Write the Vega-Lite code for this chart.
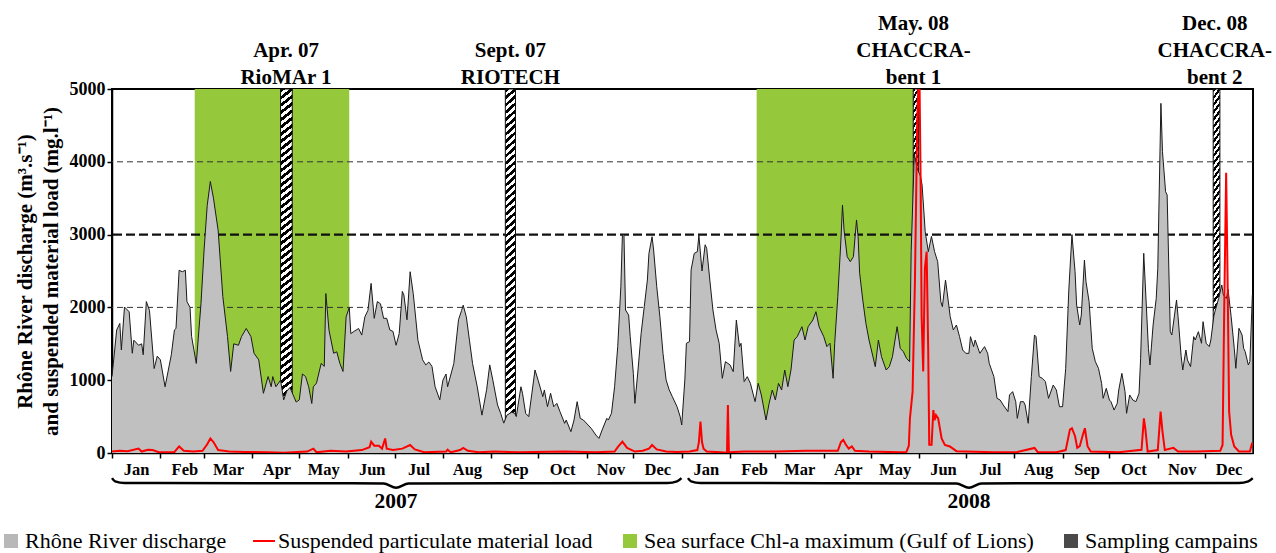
{
  "$schema": "https://vega.github.io/schema/vega-lite/v6.json",
  "width": 1141,
  "height": 364,
  "autosize": {"type": "none"},
  "padding": {"left": 112, "top": 89, "right": 23, "bottom": 100},
  "background": "white",
  "config": {
    "font": "Liberation Serif",
    "view": {"stroke": "black", "strokeWidth": 2}
  },
  "datasets": {
    "q": [
      {"d":"2007-01-01","q":1050},{"d":"2007-01-04","q":1690},{"d":"2007-01-06","q":1780},{"d":"2007-01-07","q":1415},{"d":"2007-01-09","q":2005},{"d":"2007-01-12","q":1940},{"d":"2007-01-14","q":1370},{"d":"2007-01-15","q":1550},{"d":"2007-01-18","q":1480},{"d":"2007-01-20","q":1500},{"d":"2007-01-21","q":1350},{"d":"2007-01-23","q":2080},{"d":"2007-01-25","q":1960},{"d":"2007-01-28","q":1160},{"d":"2007-01-30","q":1330},
      {"d":"2007-02-01","q":1280},{"d":"2007-02-04","q":910},{"d":"2007-02-08","q":1350},{"d":"2007-02-10","q":1690},{"d":"2007-02-11","q":1710},{"d":"2007-02-13","q":2510},{"d":"2007-02-15","q":2490},{"d":"2007-02-17","q":2510},{"d":"2007-02-18","q":2080},{"d":"2007-02-20","q":2000},{"d":"2007-02-21","q":1600},{"d":"2007-02-24","q":1230},{"d":"2007-02-27","q":2050},
      {"d":"2007-03-01","q":2790},{"d":"2007-03-03","q":3400},{"d":"2007-03-05","q":3730},{"d":"2007-03-07","q":3500},{"d":"2007-03-10","q":3060},{"d":"2007-03-13","q":2150},{"d":"2007-03-16","q":1600},{"d":"2007-03-18","q":1120},{"d":"2007-03-20","q":1500},{"d":"2007-03-23","q":1480},{"d":"2007-03-25","q":1600},{"d":"2007-03-28","q":1710},{"d":"2007-03-31","q":1600},
      {"d":"2007-04-02","q":1370},{"d":"2007-04-05","q":1280},{"d":"2007-04-08","q":820},{"d":"2007-04-11","q":1050},{"d":"2007-04-13","q":910},{"d":"2007-04-14","q":1050},{"d":"2007-04-16","q":910},{"d":"2007-04-19","q":1000},{"d":"2007-04-21","q":730},{"d":"2007-04-23","q":850},{"d":"2007-04-25","q":900},{"d":"2007-04-27","q":800},{"d":"2007-04-29","q":700},
      {"d":"2007-05-01","q":730},{"d":"2007-05-03","q":1085},{"d":"2007-05-05","q":1050},{"d":"2007-05-07","q":910},{"d":"2007-05-09","q":680},{"d":"2007-05-10","q":910},{"d":"2007-05-12","q":960},{"d":"2007-05-15","q":1230},{"d":"2007-05-17","q":1190},{"d":"2007-05-18","q":2190},{"d":"2007-05-20","q":1690},{"d":"2007-05-23","q":1370},{"d":"2007-05-25","q":1390},{"d":"2007-05-27","q":1230},{"d":"2007-05-29","q":1120},{"d":"2007-05-31","q":1870},
      {"d":"2007-06-02","q":2000},{"d":"2007-06-03","q":1640},{"d":"2007-06-05","q":1670},{"d":"2007-06-08","q":1710},{"d":"2007-06-10","q":1620},{"d":"2007-06-12","q":1870},{"d":"2007-06-14","q":1960},{"d":"2007-06-16","q":2330},{"d":"2007-06-18","q":1850},{"d":"2007-06-20","q":2080},{"d":"2007-06-22","q":2050},{"d":"2007-06-24","q":1850},{"d":"2007-06-26","q":1850},{"d":"2007-06-28","q":1690},{"d":"2007-06-30","q":1670},
      {"d":"2007-07-02","q":1480},{"d":"2007-07-04","q":1640},{"d":"2007-07-06","q":2220},{"d":"2007-07-07","q":2170},{"d":"2007-07-09","q":1830},{"d":"2007-07-11","q":2490},{"d":"2007-07-13","q":2190},{"d":"2007-07-16","q":1550},{"d":"2007-07-18","q":1370},{"d":"2007-07-19","q":1280},{"d":"2007-07-21","q":1210},{"d":"2007-07-23","q":1250},{"d":"2007-07-25","q":1190},{"d":"2007-07-27","q":910},{"d":"2007-07-30","q":730},
      {"d":"2007-08-01","q":1000},{"d":"2007-08-03","q":1085},{"d":"2007-08-04","q":910},{"d":"2007-08-08","q":1230},{"d":"2007-08-11","q":1830},{"d":"2007-08-13","q":1960},{"d":"2007-08-14","q":2030},{"d":"2007-08-16","q":1870},{"d":"2007-08-18","q":1550},{"d":"2007-08-20","q":1230},{"d":"2007-08-23","q":910},{"d":"2007-08-26","q":520},{"d":"2007-08-29","q":870},{"d":"2007-08-31","q":1210},
      {"d":"2007-09-02","q":1000},{"d":"2007-09-05","q":660},{"d":"2007-09-07","q":545},{"d":"2007-09-09","q":410},{"d":"2007-09-11","q":520},{"d":"2007-09-14","q":560},{"d":"2007-09-16","q":545},{"d":"2007-09-17","q":500},{"d":"2007-09-20","q":910},{"d":"2007-09-21","q":820},{"d":"2007-09-23","q":545},{"d":"2007-09-25","q":500},{"d":"2007-09-27","q":820},{"d":"2007-09-29","q":1140},
      {"d":"2007-10-01","q":1000},{"d":"2007-10-04","q":774},{"d":"2007-10-05","q":866},{"d":"2007-10-07","q":636},{"d":"2007-10-09","q":820},{"d":"2007-10-11","q":636},{"d":"2007-10-13","q":682},{"d":"2007-10-15","q":568},{"d":"2007-10-18","q":407},{"d":"2007-10-19","q":453},{"d":"2007-10-22","q":293},{"d":"2007-10-24","q":453},{"d":"2007-10-26","q":705},{"d":"2007-10-28","q":476},{"d":"2007-10-30","q":453},
      {"d":"2007-11-02","q":385},{"d":"2007-11-04","q":339},{"d":"2007-11-07","q":247},{"d":"2007-11-09","q":201},{"d":"2007-11-11","q":316},{"d":"2007-11-14","q":476},{"d":"2007-11-15","q":453},{"d":"2007-11-17","q":545},{"d":"2007-11-19","q":911},{"d":"2007-11-21","q":1460},{"d":"2007-11-23","q":2285},{"d":"2007-11-24","q":2994},{"d":"2007-11-25","q":3000},{"d":"2007-11-26","q":1964},{"d":"2007-11-28","q":1895},{"d":"2007-11-29","q":1598},
      {"d":"2007-12-01","q":1094},{"d":"2007-12-02","q":682},{"d":"2007-12-04","q":1140},{"d":"2007-12-06","q":1644},{"d":"2007-12-08","q":2010},{"d":"2007-12-10","q":2376},{"d":"2007-12-11","q":2742},{"d":"2007-12-13","q":2971},{"d":"2007-12-14","q":2788},{"d":"2007-12-16","q":2285},{"d":"2007-12-18","q":1873},{"d":"2007-12-20","q":1369},{"d":"2007-12-22","q":1003},{"d":"2007-12-24","q":866},{"d":"2007-12-26","q":774},{"d":"2007-12-29","q":636},{"d":"2007-12-31","q":500},
      {"d":"2008-01-01","q":385},{"d":"2008-01-03","q":1003},{"d":"2008-01-04","q":1507},{"d":"2008-01-06","q":1530},{"d":"2008-01-07","q":2514},{"d":"2008-01-09","q":2742},{"d":"2008-01-11","q":2765},{"d":"2008-01-12","q":2990},{"d":"2008-01-14","q":2500},{"d":"2008-01-16","q":2860},{"d":"2008-01-17","q":2810},{"d":"2008-01-19","q":2376},{"d":"2008-01-21","q":1964},{"d":"2008-01-23","q":1690},{"d":"2008-01-25","q":1507},{"d":"2008-01-27","q":1026},{"d":"2008-01-29","q":1255},
      {"d":"2008-02-01","q":1209},{"d":"2008-02-03","q":1117},{"d":"2008-02-05","q":1827},{"d":"2008-02-07","q":1461},{"d":"2008-02-08","q":1507},{"d":"2008-02-10","q":980},{"d":"2008-02-12","q":1049},{"d":"2008-02-14","q":957},{"d":"2008-02-17","q":705},{"d":"2008-02-19","q":957},{"d":"2008-02-21","q":797},{"d":"2008-02-24","q":453},{"d":"2008-02-26","q":682},{"d":"2008-02-28","q":865},
      {"d":"2008-03-01","q":728},{"d":"2008-03-03","q":957},{"d":"2008-03-05","q":865},{"d":"2008-03-07","q":1140},{"d":"2008-03-09","q":911},{"d":"2008-03-11","q":1140},{"d":"2008-03-13","q":1552},{"d":"2008-03-15","q":1598},{"d":"2008-03-18","q":1735},{"d":"2008-03-20","q":1552},{"d":"2008-03-22","q":1735},{"d":"2008-03-25","q":1827},{"d":"2008-03-27","q":1941},{"d":"2008-03-29","q":1735},
      {"d":"2008-04-01","q":1598},{"d":"2008-04-03","q":1461},{"d":"2008-04-05","q":1507},{"d":"2008-04-07","q":1026},{"d":"2008-04-08","q":1507},{"d":"2008-04-10","q":2147},{"d":"2008-04-12","q":2926},{"d":"2008-04-13","q":3407},{"d":"2008-04-14","q":3064},{"d":"2008-04-16","q":2697},{"d":"2008-04-18","q":2628},{"d":"2008-04-20","q":2697},{"d":"2008-04-22","q":3201},{"d":"2008-04-23","q":2972},{"d":"2008-04-24","q":2468},{"d":"2008-04-26","q":2102},{"d":"2008-04-28","q":1781},{"d":"2008-04-30","q":1552},
      {"d":"2008-05-03","q":1278},{"d":"2008-05-04","q":1186},{"d":"2008-05-06","q":1552},{"d":"2008-05-08","q":1323},{"d":"2008-05-11","q":1140},{"d":"2008-05-13","q":1186},{"d":"2008-05-15","q":1323},{"d":"2008-05-18","q":1735},{"d":"2008-05-20","q":1438},{"d":"2008-05-22","q":1392},{"d":"2008-05-24","q":1300},{"d":"2008-05-26","q":1255},{"d":"2008-05-27","q":2765},{"d":"2008-05-29","q":4100},{"d":"2008-05-31","q":3900},
      {"d":"2008-06-02","q":3800},{"d":"2008-06-03","q":3681},{"d":"2008-06-05","q":3040},{"d":"2008-06-07","q":2765},{"d":"2008-06-09","q":2976},{"d":"2008-06-11","q":2765},{"d":"2008-06-13","q":2628},{"d":"2008-06-15","q":2079},{"d":"2008-06-16","q":2010},{"d":"2008-06-18","q":2376},{"d":"2008-06-19","q":2216},{"d":"2008-06-21","q":1873},{"d":"2008-06-23","q":1690},{"d":"2008-06-25","q":1758},{"d":"2008-06-27","q":1598},{"d":"2008-06-29","q":1415},
      {"d":"2008-07-01","q":1369},{"d":"2008-07-03","q":1369},{"d":"2008-07-04","q":1598},{"d":"2008-07-06","q":1461},{"d":"2008-07-07","q":1552},{"d":"2008-07-10","q":1369},{"d":"2008-07-13","q":1461},{"d":"2008-07-15","q":1369},{"d":"2008-07-16","q":1232},{"d":"2008-07-19","q":1049},{"d":"2008-07-21","q":751},{"d":"2008-07-23","q":728},{"d":"2008-07-25","q":659},{"d":"2008-07-28","q":568},{"d":"2008-07-29","q":797},{"d":"2008-07-31","q":843},
      {"d":"2008-08-02","q":705},{"d":"2008-08-03","q":476},{"d":"2008-08-05","q":705},{"d":"2008-08-07","q":705},{"d":"2008-08-08","q":659},{"d":"2008-08-10","q":408},{"d":"2008-08-12","q":1049},{"d":"2008-08-14","q":1621},{"d":"2008-08-15","q":1598},{"d":"2008-08-17","q":1049},{"d":"2008-08-19","q":1026},{"d":"2008-08-21","q":980},{"d":"2008-08-23","q":751},{"d":"2008-08-26","q":934},{"d":"2008-08-28","q":866},{"d":"2008-08-30","q":636},
      {"d":"2008-09-01","q":636},{"d":"2008-09-03","q":1163},{"d":"2008-09-05","q":2240},{"d":"2008-09-07","q":3000},{"d":"2008-09-09","q":2491},{"d":"2008-09-10","q":2033},{"d":"2008-09-12","q":1758},{"d":"2008-09-13","q":1895},{"d":"2008-09-15","q":2651},{"d":"2008-09-16","q":2353},{"d":"2008-09-18","q":2079},{"d":"2008-09-20","q":1438},{"d":"2008-09-22","q":1255},{"d":"2008-09-24","q":1163},{"d":"2008-09-26","q":957},{"d":"2008-09-27","q":751},{"d":"2008-09-29","q":888},
      {"d":"2008-10-01","q":728},{"d":"2008-10-02","q":705},{"d":"2008-10-04","q":590},{"d":"2008-10-06","q":682},{"d":"2008-10-07","q":865},{"d":"2008-10-09","q":1094},{"d":"2008-10-11","q":843},{"d":"2008-10-12","q":545},{"d":"2008-10-14","q":797},{"d":"2008-10-16","q":728},{"d":"2008-10-18","q":705},{"d":"2008-10-20","q":820},{"d":"2008-10-21","q":1300},{"d":"2008-10-23","q":2743},{"d":"2008-10-24","q":2308},{"d":"2008-10-26","q":1438},{"d":"2008-10-27","q":1209},{"d":"2008-10-29","q":1758},{"d":"2008-10-31","q":2124},
      {"d":"2008-11-01","q":2537},{"d":"2008-11-02","q":3681},{"d":"2008-11-03","q":4803},{"d":"2008-11-04","q":4140},{"d":"2008-11-06","q":3590},{"d":"2008-11-07","q":3544},{"d":"2008-11-09","q":1667},{"d":"2008-11-10","q":1621},{"d":"2008-11-13","q":2102},{"d":"2008-11-14","q":1873},{"d":"2008-11-16","q":1323},{"d":"2008-11-17","q":1140},{"d":"2008-11-19","q":1415},{"d":"2008-11-20","q":1278},{"d":"2008-11-22","q":1186},{"d":"2008-11-24","q":1598},{"d":"2008-11-25","q":1552},{"d":"2008-11-27","q":1667},{"d":"2008-11-29","q":1507},{"d":"2008-11-30","q":1804},
      {"d":"2008-12-02","q":1507},{"d":"2008-12-04","q":1461},{"d":"2008-12-05","q":1552},{"d":"2008-12-07","q":1895},{"d":"2008-12-10","q":2124},{"d":"2008-12-12","q":2308},{"d":"2008-12-13","q":2170},{"d":"2008-12-15","q":2124},{"d":"2008-12-16","q":2250},{"d":"2008-12-18","q":1873},{"d":"2008-12-20","q":1438},{"d":"2008-12-21","q":1163},{"d":"2008-12-23","q":1713},{"d":"2008-12-25","q":1621},{"d":"2008-12-26","q":1438},{"d":"2008-12-27","q":1392},{"d":"2008-12-29","q":1209},{"d":"2008-12-30","q":1255},{"d":"2008-12-31T14:00Z","q":2170}
    ],
    "s": [
      {"d":"2007-01-01","s":20},{"d":"2007-01-06","s":30},{"d":"2007-01-11","s":25},{"d":"2007-01-18","s":60},{"d":"2007-01-20","s":20},{"d":"2007-01-24","s":45},{"d":"2007-01-27","s":40},{"d":"2007-01-31","s":10},{"d":"2007-02-10","s":15},{"d":"2007-02-13","s":90},{"d":"2007-02-16","s":30},{"d":"2007-02-22","s":20},{"d":"2007-02-28","s":30},{"d":"2007-03-03","s":120},{"d":"2007-03-05","s":200},{"d":"2007-03-07","s":150},{"d":"2007-03-10","s":40},{"d":"2007-03-17","s":20},{"d":"2007-03-27","s":15},{"d":"2007-04-11","s":10},{"d":"2007-04-21","s":5},{"d":"2007-05-06","s":20},{"d":"2007-05-10","s":60},{"d":"2007-05-12","s":10},{"d":"2007-05-21","s":30},{"d":"2007-05-31","s":20},{"d":"2007-06-10","s":40},{"d":"2007-06-15","s":80},{"d":"2007-06-16","s":155},{"d":"2007-06-18","s":100},{"d":"2007-06-21","s":100},{"d":"2007-06-23","s":60},{"d":"2007-06-25","s":200},{"d":"2007-06-26","s":60},{"d":"2007-06-30","s":40},{"d":"2007-07-06","s":60},{"d":"2007-07-11","s":110},{"d":"2007-07-14","s":50},{"d":"2007-07-20","s":10},{"d":"2007-08-03","s":20},{"d":"2007-08-04","s":45},{"d":"2007-08-06","s":10},{"d":"2007-08-12","s":40},{"d":"2007-08-14","s":70},{"d":"2007-08-17","s":30},{"d":"2007-08-24","s":10},{"d":"2007-09-03","s":20},{"d":"2007-09-18","s":10},{"d":"2007-10-18","s":20},{"d":"2007-11-07","s":10},{"d":"2007-11-19","s":20},{"d":"2007-11-21","s":80},{"d":"2007-11-24","s":155},{"d":"2007-11-27","s":70},{"d":"2007-12-02","s":20},{"d":"2007-12-07","s":30},{"d":"2007-12-11","s":60},{"d":"2007-12-13","s":110},{"d":"2007-12-16","s":50},{"d":"2007-12-22","s":20},{"d":"2007-12-29","s":15},
      {"d":"2008-01-06","s":20},{"d":"2008-01-11","s":40},{"d":"2008-01-12","s":150},{"d":"2008-01-13","s":430},{"d":"2008-01-14","s":150},{"d":"2008-01-15","s":60},{"d":"2008-01-17","s":20},{"d":"2008-01-26","s":10},{"d":"2008-01-30","s":5},{"d":"2008-01-30T14:00Z","s":660},{"d":"2008-01-31T05:00Z","s":10},{"d":"2008-02-10","s":20},{"d":"2008-03-01","s":20},{"d":"2008-03-21","s":30},{"d":"2008-04-10","s":30},{"d":"2008-04-12","s":150},{"d":"2008-04-13T12:00Z","s":180},{"d":"2008-04-15","s":120},{"d":"2008-04-17","s":60},{"d":"2008-04-19","s":90},{"d":"2008-04-21","s":30},{"d":"2008-04-30","s":20},{"d":"2008-05-20","s":10},{"d":"2008-05-24","s":15},{"d":"2008-05-25T12:00Z","s":100},{"d":"2008-05-26T05:00Z","s":476},{"d":"2008-05-27T22:00Z","s":843},{"d":"2008-05-29T10:00Z","s":2376},{"d":"2008-05-30T22:00Z","s":4600},{"d":"2008-06-01T05:00Z","s":5400},{"d":"2008-06-02T02:00Z","s":3681},{"d":"2008-06-02T17:00Z","s":1873},{"d":"2008-06-03T17:00Z","s":1121},{"d":"2008-06-04T19:00Z","s":2537},{"d":"2008-06-05T22:00Z","s":2765},{"d":"2008-06-06T22:00Z","s":1415},{"d":"2008-06-07T14:00Z","s":114},{"d":"2008-06-09T02:00Z","s":114},{"d":"2008-06-10T05:00Z","s":590},{"d":"2008-06-11","s":450},{"d":"2008-06-11T22:00Z","s":520},{"d":"2008-06-13T07:00Z","s":476},{"d":"2008-06-15T12:00Z","s":200},{"d":"2008-06-17T14:00Z","s":110},{"d":"2008-06-20T19:00Z","s":90},{"d":"2008-06-25","s":25},{"d":"2008-07-19","s":10},{"d":"2008-08-03","s":15},{"d":"2008-08-14","s":70},{"d":"2008-08-16","s":15},{"d":"2008-08-28","s":10},{"d":"2008-09-03","s":40},{"d":"2008-09-05T17:00Z","s":321},{"d":"2008-09-07","s":340},{"d":"2008-09-09","s":230},{"d":"2008-09-10T10:00Z","s":70},{"d":"2008-09-12","s":93},{"d":"2008-09-14","s":250},{"d":"2008-09-15T07:00Z","s":340},{"d":"2008-09-17","s":93},{"d":"2008-09-19","s":20},{"d":"2008-10-07","s":10},{"d":"2008-10-21T14:00Z","s":45},{"d":"2008-10-23T02:00Z","s":476},{"d":"2008-10-24","s":340},{"d":"2008-10-25T12:00Z","s":20},{"d":"2008-11-01","s":40},{"d":"2008-11-02T19:00Z","s":568},{"d":"2008-11-04","s":293},{"d":"2008-11-05T12:00Z","s":40},{"d":"2008-11-11","s":70},{"d":"2008-11-14","s":20},{"d":"2008-11-26","s":20},{"d":"2008-12-11","s":30},{"d":"2008-12-12T12:00Z","s":110},{"d":"2008-12-13T12:00Z","s":1873},{"d":"2008-12-14T19:00Z","s":3850},{"d":"2008-12-15T12:00Z","s":2765},{"d":"2008-12-16T17:00Z","s":568},{"d":"2008-12-18","s":250},{"d":"2008-12-20","s":90},{"d":"2008-12-23","s":20},{"d":"2008-12-30","s":20},{"d":"2008-12-31T12:00Z","s":140}
    ],
    "chl": [
      {"start":"2007-02-23","end":"2007-06-02"},
      {"start":"2008-02-18","end":"2008-05-28T08:00Z"}
    ],
    "camp": [
      {"start":"2007-04-19","end":"2007-04-26T12:00Z","mid":"2007-04-22T12:00Z","label":"Apr. 07\nRioMAr 1"},
      {"start":"2007-09-10","end":"2007-09-16T12:00Z","mid":"2007-09-13T06:00Z","label":"Sept. 07\nRIOTECH"},
      {"start":"2008-05-28T08:00Z","end":"2008-05-31T19:00Z","mid":"2008-05-28T12:00Z","label":"May. 08\nCHACCRA-\nbent 1"},
      {"start":"2008-12-06T12:00Z","end":"2008-12-10T19:00Z","mid":"2008-12-07T12:00Z","label":"Dec. 08\nCHACCRA-\nbent 2"}
    ],
    "brace": [
      {"d":"2007-01-01","v":-345,"g":"2007"},{"d":"2007-01-03","v":-390,"g":"2007"},{"d":"2007-01-09","v":-412,"g":"2007"},{"d":"2007-06-24","v":-418,"g":"2007"},{"d":"2007-07-02","v":-478,"g":"2007","lab":"2007"},{"d":"2007-07-10","v":-418,"g":"2007"},{"d":"2007-12-23","v":-412,"g":"2007"},{"d":"2007-12-29","v":-390,"g":"2007"},{"d":"2007-12-31T20:00Z","v":-345,"g":"2007"},
      {"d":"2008-01-05","v":-345,"g":"2008"},{"d":"2008-01-07","v":-390,"g":"2008"},{"d":"2008-01-13","v":-412,"g":"2008"},{"d":"2008-06-25","v":-418,"g":"2008"},{"d":"2008-07-03","v":-478,"g":"2008","lab":"2008"},{"d":"2008-07-11","v":-418,"g":"2008"},{"d":"2008-12-23","v":-412,"g":"2008"},{"d":"2008-12-29","v":-390,"g":"2008"},{"d":"2008-12-31T20:00Z","v":-345,"g":"2008"}
    ],
    "leg": [
      {"item": "Rhône River discharge"},
      {"item": "Suspended particulate material load"},
      {"item": "Sea surface Chl-a maximum (Gulf of Lions)"},
      {"item": "Sampling campains"}
    ]
  },
  "layer": [
    {
      "data": {"name": "chl"},
      "mark": {"type": "rect", "color": "#95c83a"},
      "encoding": {
        "x": {
          "field": "start", "type": "temporal",
          "scale": {"type": "utc", "domain": [{"year": 2007, "month": 1, "date": 1, "utc": true}, {"year": 2009, "month": 1, "date": 1, "utc": true}]},
          "axis": {
            "title": null,
            "values": [
              {"year":2007,"month":1,"date":1,"utc":true},{"year":2007,"month":2,"date":1,"utc":true},{"year":2007,"month":3,"date":1,"utc":true},{"year":2007,"month":4,"date":1,"utc":true},{"year":2007,"month":5,"date":1,"utc":true},{"year":2007,"month":6,"date":1,"utc":true},{"year":2007,"month":7,"date":1,"utc":true},{"year":2007,"month":8,"date":1,"utc":true},{"year":2007,"month":9,"date":1,"utc":true},{"year":2007,"month":10,"date":1,"utc":true},{"year":2007,"month":11,"date":1,"utc":true},{"year":2007,"month":12,"date":1,"utc":true},
              {"year":2008,"month":1,"date":1,"utc":true},{"year":2008,"month":2,"date":1,"utc":true},{"year":2008,"month":3,"date":1,"utc":true},{"year":2008,"month":4,"date":1,"utc":true},{"year":2008,"month":5,"date":1,"utc":true},{"year":2008,"month":6,"date":1,"utc":true},{"year":2008,"month":7,"date":1,"utc":true},{"year":2008,"month":8,"date":1,"utc":true},{"year":2008,"month":9,"date":1,"utc":true},{"year":2008,"month":10,"date":1,"utc":true},{"year":2008,"month":11,"date":1,"utc":true},{"year":2008,"month":12,"date":1,"utc":true}
            ],
            "format": "%b",
            "labelOffset": 24,
            "labelFlush": false,
            "labelOverlap": false,
            "labelFont": "Liberation Serif",
            "labelFontSize": 16.5,
            "labelFontWeight": "bold",
            "labelColor": "black",
            "labelPadding": 3,
            "tickSize": 5,
            "tickColor": "black",
            "tickWidth": 1.5,
            "domainColor": "black",
            "domainWidth": 1.5,
            "grid": false
          }
        },
        "x2": {"field": "end"},
        "y": {
          "datum": 5000, "type": "quantitative",
          "scale": {"domain": [0, 5000], "nice": false, "zero": false},
          "axis": {
            "title": ["Rhône River discharge (m³.s⁻¹)", "and suspended material load (mg.l⁻¹)"],
            "values": [0, 500, 1000, 1500, 2000, 2500, 3000, 3500, 4000, 4500, 5000],
            "format": "d",
            "grid": false,
            "labelOverlap": false,
            "labelFont": "Liberation Serif",
            "labelFontSize": 18,
            "labelFontWeight": "bold",
            "labelColor": "black",
            "labelPadding": 2,
            "tickSize": 5,
            "tickColor": "black",
            "tickWidth": 1.5,
            "domainColor": "black",
            "domainWidth": 1.5,
            "titleFont": "Liberation Serif",
            "titleFontSize": 21,
            "titleFontWeight": "bold",
            "titleColor": "black",
            "titlePadding": 8,
            "titleLineHeight": 26
          }
        },
        "y2": {"datum": 0}
      }
    },
    {
      "data": {"values": [{"v": 2000}, {"v": 4000}]},
      "mark": {"type": "rule", "color": "#333333", "strokeWidth": 1, "strokeDash": [6, 4]},
      "encoding": {
        "y": {"field": "v", "type": "quantitative", "scale": {"domain": [0, 5000], "nice": false, "zero": false}}
      }
    },
    {
      "data": {"values": [{"v": 3000}]},
      "mark": {"type": "rule", "color": "#111111", "strokeWidth": 2.2, "strokeDash": [9, 4]},
      "encoding": {
        "y": {"field": "v", "type": "quantitative", "scale": {"domain": [0, 5000], "nice": false, "zero": false}}
      }
    },
    {
      "data": {"name": "camp"},
      "mark": {
        "type": "rect",
        "stroke": "#111111",
        "strokeWidth": 1,
        "fill": {
          "gradient": "linear", "x1": 0, "y1": 0, "x2": 0.025, "y2": 1,
          "stops": [
            {"offset":0,"color":"#000"},{"offset":0.01,"color":"#000"},{"offset":0.01,"color":"#fff"},{"offset":0.02,"color":"#fff"},
            {"offset":0.02,"color":"#000"},{"offset":0.03,"color":"#000"},{"offset":0.03,"color":"#fff"},{"offset":0.04,"color":"#fff"},
            {"offset":0.04,"color":"#000"},{"offset":0.05,"color":"#000"},{"offset":0.05,"color":"#fff"},{"offset":0.06,"color":"#fff"},
            {"offset":0.06,"color":"#000"},{"offset":0.07,"color":"#000"},{"offset":0.07,"color":"#fff"},{"offset":0.08,"color":"#fff"},
            {"offset":0.08,"color":"#000"},{"offset":0.09,"color":"#000"},{"offset":0.09,"color":"#fff"},{"offset":0.10,"color":"#fff"},
            {"offset":0.10,"color":"#000"},{"offset":0.11,"color":"#000"},{"offset":0.11,"color":"#fff"},{"offset":0.12,"color":"#fff"},
            {"offset":0.12,"color":"#000"},{"offset":0.13,"color":"#000"},{"offset":0.13,"color":"#fff"},{"offset":0.14,"color":"#fff"},
            {"offset":0.14,"color":"#000"},{"offset":0.15,"color":"#000"},{"offset":0.15,"color":"#fff"},{"offset":0.16,"color":"#fff"},
            {"offset":0.16,"color":"#000"},{"offset":0.17,"color":"#000"},{"offset":0.17,"color":"#fff"},{"offset":0.18,"color":"#fff"},
            {"offset":0.18,"color":"#000"},{"offset":0.19,"color":"#000"},{"offset":0.19,"color":"#fff"},{"offset":0.20,"color":"#fff"},
            {"offset":0.20,"color":"#000"},{"offset":0.21,"color":"#000"},{"offset":0.21,"color":"#fff"},{"offset":0.22,"color":"#fff"},
            {"offset":0.22,"color":"#000"},{"offset":0.23,"color":"#000"},{"offset":0.23,"color":"#fff"},{"offset":0.24,"color":"#fff"},
            {"offset":0.24,"color":"#000"},{"offset":0.25,"color":"#000"},{"offset":0.25,"color":"#fff"},{"offset":0.26,"color":"#fff"},
            {"offset":0.26,"color":"#000"},{"offset":0.27,"color":"#000"},{"offset":0.27,"color":"#fff"},{"offset":0.28,"color":"#fff"},
            {"offset":0.28,"color":"#000"},{"offset":0.29,"color":"#000"},{"offset":0.29,"color":"#fff"},{"offset":0.30,"color":"#fff"},
            {"offset":0.30,"color":"#000"},{"offset":0.31,"color":"#000"},{"offset":0.31,"color":"#fff"},{"offset":0.32,"color":"#fff"},
            {"offset":0.32,"color":"#000"},{"offset":0.33,"color":"#000"},{"offset":0.33,"color":"#fff"},{"offset":0.34,"color":"#fff"},
            {"offset":0.34,"color":"#000"},{"offset":0.35,"color":"#000"},{"offset":0.35,"color":"#fff"},{"offset":0.36,"color":"#fff"},
            {"offset":0.36,"color":"#000"},{"offset":0.37,"color":"#000"},{"offset":0.37,"color":"#fff"},{"offset":0.38,"color":"#fff"},
            {"offset":0.38,"color":"#000"},{"offset":0.39,"color":"#000"},{"offset":0.39,"color":"#fff"},{"offset":0.40,"color":"#fff"},
            {"offset":0.40,"color":"#000"},{"offset":0.41,"color":"#000"},{"offset":0.41,"color":"#fff"},{"offset":0.42,"color":"#fff"},
            {"offset":0.42,"color":"#000"},{"offset":0.43,"color":"#000"},{"offset":0.43,"color":"#fff"},{"offset":0.44,"color":"#fff"},
            {"offset":0.44,"color":"#000"},{"offset":0.45,"color":"#000"},{"offset":0.45,"color":"#fff"},{"offset":0.46,"color":"#fff"},
            {"offset":0.46,"color":"#000"},{"offset":0.47,"color":"#000"},{"offset":0.47,"color":"#fff"},{"offset":0.48,"color":"#fff"},
            {"offset":0.48,"color":"#000"},{"offset":0.49,"color":"#000"},{"offset":0.49,"color":"#fff"},{"offset":0.50,"color":"#fff"},
            {"offset":0.50,"color":"#000"},{"offset":0.51,"color":"#000"},{"offset":0.51,"color":"#fff"},{"offset":0.52,"color":"#fff"},
            {"offset":0.52,"color":"#000"},{"offset":0.53,"color":"#000"},{"offset":0.53,"color":"#fff"},{"offset":0.54,"color":"#fff"},
            {"offset":0.54,"color":"#000"},{"offset":0.55,"color":"#000"},{"offset":0.55,"color":"#fff"},{"offset":0.56,"color":"#fff"},
            {"offset":0.56,"color":"#000"},{"offset":0.57,"color":"#000"},{"offset":0.57,"color":"#fff"},{"offset":0.58,"color":"#fff"},
            {"offset":0.58,"color":"#000"},{"offset":0.59,"color":"#000"},{"offset":0.59,"color":"#fff"},{"offset":0.60,"color":"#fff"},
            {"offset":0.60,"color":"#000"},{"offset":0.61,"color":"#000"},{"offset":0.61,"color":"#fff"},{"offset":0.62,"color":"#fff"},
            {"offset":0.62,"color":"#000"},{"offset":0.63,"color":"#000"},{"offset":0.63,"color":"#fff"},{"offset":0.64,"color":"#fff"},
            {"offset":0.64,"color":"#000"},{"offset":0.65,"color":"#000"},{"offset":0.65,"color":"#fff"},{"offset":0.66,"color":"#fff"},
            {"offset":0.66,"color":"#000"},{"offset":0.67,"color":"#000"},{"offset":0.67,"color":"#fff"},{"offset":0.68,"color":"#fff"},
            {"offset":0.68,"color":"#000"},{"offset":0.69,"color":"#000"},{"offset":0.69,"color":"#fff"},{"offset":0.70,"color":"#fff"},
            {"offset":0.70,"color":"#000"},{"offset":0.71,"color":"#000"},{"offset":0.71,"color":"#fff"},{"offset":0.72,"color":"#fff"},
            {"offset":0.72,"color":"#000"},{"offset":0.73,"color":"#000"},{"offset":0.73,"color":"#fff"},{"offset":0.74,"color":"#fff"},
            {"offset":0.74,"color":"#000"},{"offset":0.75,"color":"#000"},{"offset":0.75,"color":"#fff"},{"offset":0.76,"color":"#fff"},
            {"offset":0.76,"color":"#000"},{"offset":0.77,"color":"#000"},{"offset":0.77,"color":"#fff"},{"offset":0.78,"color":"#fff"},
            {"offset":0.78,"color":"#000"},{"offset":0.79,"color":"#000"},{"offset":0.79,"color":"#fff"},{"offset":0.80,"color":"#fff"},
            {"offset":0.80,"color":"#000"},{"offset":0.81,"color":"#000"},{"offset":0.81,"color":"#fff"},{"offset":0.82,"color":"#fff"},
            {"offset":0.82,"color":"#000"},{"offset":0.83,"color":"#000"},{"offset":0.83,"color":"#fff"},{"offset":0.84,"color":"#fff"},
            {"offset":0.84,"color":"#000"},{"offset":0.85,"color":"#000"},{"offset":0.85,"color":"#fff"},{"offset":0.86,"color":"#fff"},
            {"offset":0.86,"color":"#000"},{"offset":0.87,"color":"#000"},{"offset":0.87,"color":"#fff"},{"offset":0.88,"color":"#fff"},
            {"offset":0.88,"color":"#000"},{"offset":0.89,"color":"#000"},{"offset":0.89,"color":"#fff"},{"offset":0.90,"color":"#fff"},
            {"offset":0.90,"color":"#000"},{"offset":0.91,"color":"#000"},{"offset":0.91,"color":"#fff"},{"offset":0.92,"color":"#fff"},
            {"offset":0.92,"color":"#000"},{"offset":0.93,"color":"#000"},{"offset":0.93,"color":"#fff"},{"offset":0.94,"color":"#fff"},
            {"offset":0.94,"color":"#000"},{"offset":0.95,"color":"#000"},{"offset":0.95,"color":"#fff"},{"offset":0.96,"color":"#fff"},
            {"offset":0.96,"color":"#000"},{"offset":0.97,"color":"#000"},{"offset":0.97,"color":"#fff"},{"offset":0.98,"color":"#fff"},
            {"offset":0.98,"color":"#000"},{"offset":0.99,"color":"#000"},{"offset":0.99,"color":"#fff"},{"offset":1,"color":"#fff"}
          ]
        }
      },
      "encoding": {
        "x": {"field": "start", "type": "temporal", "scale": {"type": "utc", "domain": [{"year": 2007, "month": 1, "date": 1, "utc": true}, {"year": 2009, "month": 1, "date": 1, "utc": true}]}},
        "x2": {"field": "end"},
        "y": {"datum": 5000, "type": "quantitative", "scale": {"domain": [0, 5000], "nice": false, "zero": false}},
        "y2": {"datum": 0}
      }
    },
    {
      "data": {"name": "q"},
      "mark": {"type": "area", "color": "#c0c0c0", "clip": true},
      "encoding": {
        "x": {"field": "d", "type": "temporal", "scale": {"type": "utc", "domain": [{"year": 2007, "month": 1, "date": 1, "utc": true}, {"year": 2009, "month": 1, "date": 1, "utc": true}]}},
        "y": {"field": "q", "type": "quantitative", "scale": {"domain": [0, 5000], "nice": false, "zero": false}}
      }
    },
    {
      "data": {"name": "q"},
      "mark": {"type": "line", "color": "#1a1a1a", "strokeWidth": 1, "clip": true},
      "encoding": {
        "x": {"field": "d", "type": "temporal", "scale": {"type": "utc", "domain": [{"year": 2007, "month": 1, "date": 1, "utc": true}, {"year": 2009, "month": 1, "date": 1, "utc": true}]}},
        "y": {"field": "q", "type": "quantitative", "scale": {"domain": [0, 5000], "nice": false, "zero": false}}
      }
    },
    {
      "data": {"name": "s"},
      "mark": {"type": "line", "color": "#ff0000", "strokeWidth": 2, "clip": true},
      "encoding": {
        "x": {"field": "d", "type": "temporal", "scale": {"type": "utc", "domain": [{"year": 2007, "month": 1, "date": 1, "utc": true}, {"year": 2009, "month": 1, "date": 1, "utc": true}]}},
        "y": {"field": "s", "type": "quantitative", "scale": {"domain": [0, 5000], "nice": false, "zero": false}}
      }
    },
    {
      "data": {"name": "camp"},
      "mark": {"type": "text", "lineBreak": "\n", "baseline": "bottom", "align": "center", "dy": {"expr": "indexof(datum.label, 'bent') >= 0 ? -55 : -28"}, "font": "Liberation Serif", "fontSize": 21, "fontWeight": "bold", "lineHeight": 27, "color": "black"},
      "encoding": {
        "x": {"field": "mid", "type": "temporal", "scale": {"type": "utc", "domain": [{"year": 2007, "month": 1, "date": 1, "utc": true}, {"year": 2009, "month": 1, "date": 1, "utc": true}]}},
        "y": {"datum": 5000, "type": "quantitative", "scale": {"domain": [0, 5000], "nice": false, "zero": false}},
        "text": {"field": "label"}
      }
    },
    {
      "data": {"name": "brace"},
      "mark": {"type": "line", "color": "black", "strokeWidth": 2.5, "interpolate": "monotone"},
      "encoding": {
        "x": {"field": "d", "type": "temporal", "scale": {"type": "utc", "domain": [{"year": 2007, "month": 1, "date": 1, "utc": true}, {"year": 2009, "month": 1, "date": 1, "utc": true}]}},
        "y": {"field": "v", "type": "quantitative", "scale": {"domain": [0, 5000], "nice": false, "zero": false}},
        "detail": {"field": "g"}
      }
    },
    {
      "data": {"name": "brace"},
      "transform": [{"filter": "datum.lab"}],
      "mark": {"type": "text", "baseline": "top", "align": "center", "dy": 3, "font": "Liberation Serif", "fontSize": 21.5, "fontWeight": "bold", "color": "black"},
      "encoding": {
        "x": {"field": "d", "type": "temporal", "scale": {"type": "utc", "domain": [{"year": 2007, "month": 1, "date": 1, "utc": true}, {"year": 2009, "month": 1, "date": 1, "utc": true}]}},
        "y": {"field": "v", "type": "quantitative", "scale": {"domain": [0, 5000], "nice": false, "zero": false}},
        "text": {"field": "lab"}
      }
    },
    {
      "data": {"name": "leg"},
      "mark": {"type": "point", "opacity": 1, "filled": true, "clip": true, "size": 10},
      "encoding": {
        "x": {"datum": {"year": 2010, "month": 6, "date": 1, "utc": true}, "type": "temporal", "scale": {"type": "utc", "domain": [{"year": 2007, "month": 1, "date": 1, "utc": true}, {"year": 2009, "month": 1, "date": 1, "utc": true}]}},
        "y": {"datum": 2500, "type": "quantitative", "scale": {"domain": [0, 5000], "nice": false, "zero": false}},
        "color": {
          "field": "item", "type": "nominal",
          "scale": {"domain": ["Rhône River discharge", "Suspended particulate material load", "Sea surface Chl-a maximum (Gulf of Lions)", "Sampling campains"], "range": ["#b8b8b8", "#ff0000", "#95c83a", "#4a4a4a"]},
          "legend": {
            "orient": "none",
            "legendX": -112,
            "legendY": 441,
            "direction": "horizontal",
            "title": null,
            "labelFont": "Liberation Serif",
            "labelFontSize": 22,
            "labelColor": "black",
            "labelOffset": 3,
            "labelLimit": 600,
            "columnPadding": 26,
            "symbolSize": 196,
            "symbolOpacity": 1,
            "symbolFillColor": "#b8b8b8",
            "symbolStrokeWidth": 0
          }
        },
        "shape": {
          "field": "item", "type": "nominal",
          "scale": {"domain": ["Rhône River discharge", "Suspended particulate material load", "Sea surface Chl-a maximum (Gulf of Lions)", "Sampling campains"], "range": ["square", "M-1.57,-0.14L1.57,-0.14L1.57,0.14L-1.57,0.14Z", "square", "square"]},
          "legend": {
            "orient": "none",
            "legendX": -112,
            "legendY": 441,
            "direction": "horizontal",
            "title": null,
            "labelFont": "Liberation Serif",
            "labelFontSize": 22,
            "labelColor": "black",
            "labelOffset": 3,
            "labelLimit": 600,
            "columnPadding": 26,
            "symbolSize": 196,
            "symbolOpacity": 1,
            "symbolFillColor": "#b8b8b8",
            "symbolStrokeWidth": 0
          }
        }
      }
    }
  ]
}
